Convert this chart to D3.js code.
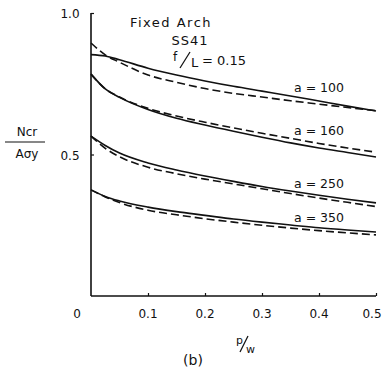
<!DOCTYPE html>
<html><head><meta charset="utf-8">
<script src="https://cdn.jsdelivr.net/npm/d3@7"></script>
<style>
html,body{margin:0;padding:0;background:#fff;}
svg text{font-family:"DejaVu Sans",sans-serif;fill:#111;}
</style></head>
<body><svg id="c" width="384" height="378"></svg>
<script>
const pw = [0, 0.025, 0.05, 0.1, 0.15, 0.2, 0.25, 0.3, 0.35, 0.4, 0.45, 0.5];
const a100Solid  = [0.853, 0.848, 0.835, 0.805, 0.781, 0.760, 0.741, 0.724, 0.707, 0.689, 0.671, 0.654];
const a100Dashed = [0.894, 0.852, 0.826, 0.781, 0.755, 0.733, 0.716, 0.703, 0.690, 0.678, 0.666, 0.655];
const a160Solid  = [0.784, 0.732, 0.702, 0.659, 0.628, 0.604, 0.582, 0.561, 0.541, 0.523, 0.507, 0.491];
const a160Dashed = [0.784, 0.732, 0.703, 0.663, 0.636, 0.614, 0.594, 0.575, 0.557, 0.539, 0.523, 0.508];
const a250Solid  = [0.565, 0.532, 0.505, 0.470, 0.445, 0.424, 0.405, 0.387, 0.371, 0.356, 0.342, 0.329];
const a250Dashed = [0.565, 0.522, 0.492, 0.455, 0.432, 0.413, 0.396, 0.379, 0.362, 0.346, 0.331, 0.316];
const a350Solid  = [0.375, 0.352, 0.336, 0.314, 0.298, 0.285, 0.272, 0.261, 0.251, 0.241, 0.233, 0.226];
const a350Dashed = [0.375, 0.350, 0.330, 0.303, 0.287, 0.273, 0.261, 0.250, 0.240, 0.231, 0.223, 0.216];
const curveLabels = ["a = 100", "a = 160", "a = 250", "a = 350"];
const xTicks = [0.1, 0.2, 0.3, 0.4, 0.5];
const xTickLabels = ["0.1", "0.2", "0.3", "0.4", "0.5"];
const yTicks = [0.5, 1.0];
const yTickLabels = ["0.5", "1.0"];

const svg = d3.select("#c");
const x = d3.scaleLinear().domain([0, 0.5]).range([91, 376]);
const y = d3.scaleLinear().domain([0, 1]).range([296, 13]);

const series = [
  {v: a100Solid, dash: null}, {v: a100Dashed, dash: "8,4"},
  {v: a160Solid, dash: null}, {v: a160Dashed, dash: "8,4"},
  {v: a250Solid, dash: null}, {v: a250Dashed, dash: "8,4"},
  {v: a350Solid, dash: null}, {v: a350Dashed, dash: "8,4"}
];
const line = d3.line().x(d => x(d[0])).y(d => y(d[1])).curve(d3.curveMonotoneX);
series.forEach(s => {
  svg.append("path")
    .attr("d", line(pw.map((p, i) => [p, s.v[i]])))
    .attr("fill", "none").attr("stroke", "#111")
    .attr("stroke-width", 1.6)
    .attr("stroke-dasharray", s.dash);
});

// axes
const xAxis = d3.axisBottom(x).tickValues(xTicks).tickSize(-3).tickFormat("");
const gx = svg.append("g").attr("transform", `translate(0,${y(0)})`).call(xAxis);
gx.select(".domain").attr("d", `M${x(0)},0H${x(0.5)}`).attr("stroke", "#111").attr("stroke-width", 1.6);
gx.selectAll(".tick line").attr("stroke", "#111").attr("stroke-width", 1.2);

const yAxis = d3.axisLeft(y).tickValues(yTicks).tickSize(-3).tickFormat("");
const gy = svg.append("g").attr("transform", `translate(${x(0)},0)`).call(yAxis);
gy.select(".domain").attr("d", `M0,${y(1)}V${y(0)}`).attr("stroke", "#111").attr("stroke-width", 1.6);
gy.selectAll(".tick line").attr("stroke", "#111").attr("stroke-width", 1.2);

// tick labels
xTicks.forEach((t, i) => {
  const last = i === xTicks.length - 1;
  svg.append("text").attr("x", last ? 372 : x(t)).attr("y", 318).attr("text-anchor", "middle")
    .attr("font-size", 12).text(xTickLabels[i]);
});
svg.append("text").attr("x", 77).attr("y", 318).attr("text-anchor", "middle")
  .attr("font-size", 12).text("0");
yTicks.forEach((t, i) => {
  svg.append("text").attr("x", 70).attr("y", y(t) + 5).attr("text-anchor", "middle")
    .attr("font-size", 12).text(yTickLabels[i]);
});

// y label fraction
svg.append("text").attr("x", 27).attr("y", 136).attr("text-anchor", "middle")
  .attr("font-size", 12).text("Ncr");
svg.append("line").attr("x1", 5).attr("x2", 45).attr("y1", 142).attr("y2", 142)
  .attr("stroke", "#111").attr("stroke-width", 1.2);
svg.append("text").attr("x", 27).attr("y", 158).attr("text-anchor", "middle")
  .attr("font-size", 12).text("Aσy");

// title block
svg.append("text").attr("x", 171).attr("y", 27).attr("text-anchor", "middle")
  .attr("font-size", 13).attr("letter-spacing", 1.5).text("Fixed Arch");
svg.append("text").attr("x", 190).attr("y", 45).attr("text-anchor", "middle")
  .attr("font-size", 13).attr("letter-spacing", 1).text("SS41");
svg.append("text").attr("x", 173).attr("y", 61).attr("font-size", 12).text("f");
svg.append("line").attr("x1", 180).attr("y1", 68).attr("x2", 190).attr("y2", 52)
  .attr("stroke", "#111").attr("stroke-width", 1.3);
svg.append("text").attr("x", 191).attr("y", 67).attr("font-size", 13).text("L");
svg.append("text").attr("x", 202).attr("y", 65).attr("font-size", 13).text("= 0.15");

// curve labels
const labelY = [92, 135, 188, 222];
curveLabels.forEach((t, i) => {
  svg.append("text").attr("x", 294).attr("y", labelY[i]).attr("font-size", 12.5).text(t);
});

// x label p/w
svg.append("text").attr("x", 236).attr("y", 344).attr("font-size", 11).text("p");
svg.append("line").attr("x1", 240).attr("y1", 352).attr("x2", 248).attr("y2", 336)
  .attr("stroke", "#111").attr("stroke-width", 1.2);
svg.append("text").attr("x", 246).attr("y", 353).attr("font-size", 11).text("w");

svg.append("text").attr("x", 193).attr("y", 365).attr("text-anchor", "middle")
  .attr("font-family", "'DejaVu Serif', serif").attr("font-size", 14).text("(b)");
</script></body></html>
